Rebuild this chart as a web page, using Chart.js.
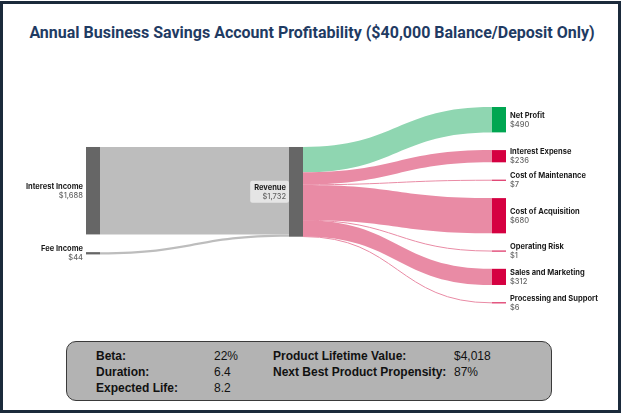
<!DOCTYPE html>
<html>
<head>
<meta charset="utf-8">
<script src="https://cdn.jsdelivr.net/npm/chart.js@4.4.1/dist/chart.umd.min.js"></script>
<style>
  html, body { margin: 0; padding: 0; background: #fff; }
  #page { position: relative; width: 624px; height: 415px; overflow: hidden; }
  #frame { position: absolute; left: 0; top: 1px; width: 615px; height: 406px; border: 3px solid #1b2a3b; }
  #title { position: absolute; left: 0; top: 23px; width: 624px; text-align: center;
           font: bold 16px Roboto, sans-serif; color: #1f3b63; }
  #chart-wrap { position: absolute; left: 0; top: 0; width: 624px; height: 415px; }
  #stats { position: absolute; left: 66px; top: 341px; width: 484px; height: 58px;
           background: #b3b3b3; border: 1.5px solid #3a3a3a; border-radius: 10px;
           font: bold 12px "Liberation Sans", Arial, sans-serif; color: #111; }
  #stats div { position: absolute; line-height: 15.5px; white-space: nowrap; }
  #stats .val { font-weight: normal; }
</style>
</head>
<body>
<div id="page">
  <div id="frame"></div>
  <div id="title">Annual Business Savings Account Profitability ($40,000 Balance/Deposit Only)</div>
  <div id="chart-wrap"><canvas id="sankey"></canvas></div>
  <div id="stats"></div>
</div>
<script>
// nodes, in drawing order within each column
var nodeNames = ["Interest Income", "Fee Income", "Revenue", "Net Profit", "Interest Expense",
                 "Cost of Maintenance", "Cost of Acquisition", "Operating Risk",
                 "Sales and Marketing", "Processing and Support"];
var nodeColumns = [0, 0, 1, 2, 2, 2, 2, 2, 2, 2];

// flows
var flowFrom = ["Interest Income", "Fee Income", "Revenue", "Revenue", "Revenue", "Revenue", "Revenue", "Revenue", "Revenue"];
var flowTo = ["Revenue", "Revenue", "Net Profit", "Interest Expense", "Cost of Maintenance",
              "Cost of Acquisition", "Operating Risk", "Sales and Marketing", "Processing and Support"];
var flowValues = [1688, 44, 490, 236, 7, 680, 1, 312, 6];

// summary box
var statLabelsA = ["Beta:", "Duration:", "Expected Life:"];
var statValuesA = ["22%", "6.4", "8.2"];
var statLabelsB = ["Product Lifetime Value:", "Next Best Product Propensity:"];
var statValuesB = ["$4,018", "87%"];

// layout / style
var NODE_GAP = 342;          // in value units
var COLUMN_OFFSET = [772, 772, 0];
var NODE_W = 14;
var GREY_NODE = "#666666", GREY_FLOW = "#bdbdbd";
var GREEN_NODE = "#00a651", GREEN_FLOW = "#8fd6b1";
var RED_NODE = "#d50041", RED_FLOW = "#e98ba5";
var NAME_FONT = "bold 7.5px Inter, sans-serif";
var VALUE_FONT = "500 7.5px Inter, sans-serif";

function nodeColor(name) {
  if (nodeColumns[nodeNames.indexOf(name)] < 2) return GREY_NODE;
  return name == "Net Profit" ? GREEN_NODE : RED_NODE;
}
function flowColor(to) {
  if (to == "Revenue") return GREY_FLOW;
  return to == "Net Profit" ? GREEN_FLOW : RED_FLOW;
}

// node values and vertical extents (value units)
var nodes = nodeNames.map(function (n, i) {
  var inV = 0, outV = 0;
  for (var f = 0; f < flowValues.length; f++) {
    if (flowTo[f] == n) inV += flowValues[f];
    if (flowFrom[f] == n) outV += flowValues[f];
  }
  return { name: n, col: nodeColumns[i], value: Math.max(inV, outV) };
});
[0, 1, 2].forEach(function (c) {
  var y = COLUMN_OFFSET[c];
  nodes.forEach(function (nd) {
    if (nd.col != c) return;
    nd.y0 = y; nd.y1 = y + nd.value; nd.outCur = y; nd.inCur = y;
    y = nd.y1 + NODE_GAP;
  });
});
function node(name) { return nodes[nodeNames.indexOf(name)]; }

var flows = flowValues.map(function (v, i) {
  var s = node(flowFrom[i]), t = node(flowTo[i]);
  var f = { from: s, to: t, value: v, s0: s.outCur, t0: t.inCur };
  s.outCur += v; t.inCur += v;
  return f;
});

var sankeyPlugin = {
  id: "sankeyDraw",
  afterDraw: function (chart) {
    var ctx = chart.ctx, xs = chart.scales.x, ys = chart.scales.y;
    ctx.save();
    // flows
    flows.forEach(function (f) {
      var x0 = xs.getPixelForValue(f.from.col) + NODE_W;
      var x1 = xs.getPixelForValue(f.to.col);
      var xm = (x0 + x1) / 2;
      var a0 = ys.getPixelForValue(f.s0), a1 = ys.getPixelForValue(f.s0 + f.value);
      var b0 = ys.getPixelForValue(f.t0), b1 = ys.getPixelForValue(f.t0 + f.value);
      var col = flowColor(f.to.name);
      if (a1 - a0 < 1.2) {
        var am = (a0 + a1) / 2, bm = (b0 + b1) / 2;
        ctx.beginPath();
        ctx.moveTo(x0, am);
        ctx.bezierCurveTo(xm, am, xm, bm, x1, bm);
        ctx.strokeStyle = col;
        ctx.lineWidth = Math.max(a1 - a0, 1);
        ctx.stroke();
        return;
      }
      ctx.beginPath();
      ctx.moveTo(x0, a0);
      ctx.bezierCurveTo(xm, a0, xm, b0, x1, b0);
      ctx.lineTo(x1, b1);
      ctx.bezierCurveTo(xm, b1, xm, a1, x0, a1);
      ctx.closePath();
      ctx.fillStyle = col;
      ctx.fill();
    });
    // nodes
    nodes.forEach(function (nd) {
      var x = xs.getPixelForValue(nd.col);
      var y0 = ys.getPixelForValue(nd.y0), y1 = ys.getPixelForValue(nd.y1);
      var h = Math.max(y1 - y0, 1);
      ctx.fillStyle = nodeColor(nd.name);
      ctx.fillRect(x, (y0 + y1) / 2 - h / 2, NODE_W, h);
    });
    // labels
    ctx.textBaseline = "middle";
    nodes.forEach(function (nd) {
      var x = xs.getPixelForValue(nd.col);
      var cy = ys.getPixelForValue((nd.y0 + nd.y1) / 2);
      var label = nd.name, val = "$" + nd.value.toLocaleString("en-US");
      var tx, align;
      if (nd.col < 2) { tx = x - 3; align = "right"; }
      else { tx = x + NODE_W + 4; align = "left"; }
      ctx.textAlign = align;
      ctx.font = NAME_FONT;
      var w1 = ctx.measureText(label).width;
      ctx.font = VALUE_FONT;
      var w2 = ctx.measureText(val).width;
      if (nd.col == 1) {
        var bw = Math.max(w1, w2) + 6;
        ctx.fillStyle = "rgba(255,255,255,0.6)";
        ctx.beginPath();
        ctx.roundRect(tx - bw + 2, cy - 11, bw + 1, 22, 2);
        ctx.fill();
      }
      ctx.fillStyle = "#1a1a1a";
      ctx.font = NAME_FONT;
      ctx.fillText(label, tx, cy - 4.3);
      ctx.fillStyle = "#666666";
      ctx.font = VALUE_FONT;
      ctx.fillText(val, tx, cy + 4.6);
    });
    ctx.restore();
  }
};

new Chart("sankey", {
  type: "scatter",
  data: { datasets: [] },
  options: {
    responsive: true,
    maintainAspectRatio: false,
    animation: false,
    events: [],
    layout: { padding: { left: 86, right: 132, top: 107, bottom: 112 } },
    plugins: { legend: { display: false }, title: { display: false }, tooltip: { enabled: false } },
    scales: {
      x: { type: "linear", min: 0, max: 2, display: false },
      y: { type: "linear", min: 0, max: 1732 + 6 * NODE_GAP, reverse: true, display: false }
    }
  },
  plugins: [sankeyPlugin]
});

// summary box
var stats = document.getElementById("stats");
function addCell(text, left, row, cls) {
  var d = document.createElement("div");
  d.textContent = text;
  d.style.left = left + "px";
  d.style.top = (7 + row * 15.8) + "px";
  if (cls) d.className = cls;
  stats.appendChild(d);
}
for (var i = 0; i < statLabelsA.length; i++) {
  addCell(statLabelsA[i], 29, i);
  addCell(statValuesA[i], 147, i, "val");
}
for (var j = 0; j < statLabelsB.length; j++) {
  addCell(statLabelsB[j], 206, j);
  addCell(statValuesB[j], 387, j, "val");
}
</script>
</body>
</html>
